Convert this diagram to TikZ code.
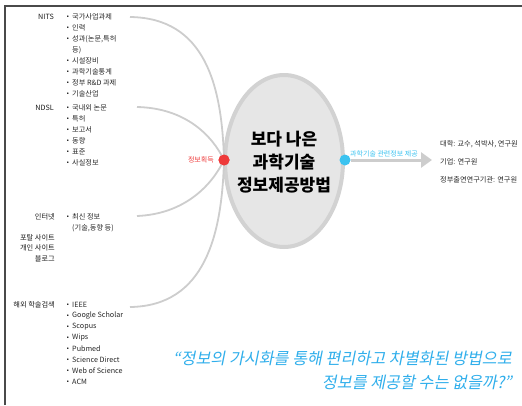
\documentclass[tikz,border=0pt]{standalone}
\usepackage{fontspec}
\setmainfont{Noto Sans CJK KR}
\newfontfamily\kr{Noto Sans CJK KR}
\newfontfamily\krq{Noto Sans CJK KR}[FakeSlant=0.2]
\usetikzlibrary{arrows.meta,shapes.geometric}
\definecolor{ringgray}{HTML}{D2D2D2}
\definecolor{fillgray}{HTML}{E6E6E6}
\definecolor{linegray}{HTML}{CDCDCD}
\definecolor{dotred}{HTML}{EE3A3A}
\definecolor{dotblue}{HTML}{3CC3F0}
\definecolor{quoteblue}{HTML}{2FAEEB}
\definecolor{framegray}{HTML}{4A4A4A}
\tikzset{
  item/.style={anchor=west,inner sep=0pt,font=\fontsize{7.2}{8}\kr,text=black!85},
  cat/.style={anchor=east,inner sep=0pt,font=\fontsize{7.2}{8}\kr,text=black!90},
  bul/.style={inner sep=0pt,font=\fontsize{6}{7}\kr},
  branch/.style={draw=linegray,line width=1.8pt},
  rtext/.style={anchor=west,inner sep=0pt,font=\fontsize{7.2}{8}\kr,text=black!85},
  quote/.style={anchor=east,inner sep=0pt,font=\fontsize{16.2}{18}\krq,text=quoteblue},
}
\begin{document}
\begin{tikzpicture}[x=1pt,y=-1pt]
\useasboundingbox (0,0) rectangle (522,405);
% frame
\draw[framegray,line width=1.6pt] (5,405) -- (5,6) -- (522,6);
% central ellipse
\node[draw=ringgray,fill=fillgray,line width=4pt,ellipse,inner sep=0pt,minimum width=118pt,minimum height=172pt] (ctr) at (284,161) {};
\node[inner sep=0pt,align=center,font=\fontsize{17}{23}\kr\bfseries] (title) at (284,162) {보다 나은\\과학기술\\정보제공방법};
% dots
\node[circle,fill=dotred,inner sep=0pt,minimum size=11pt] (red) at (224,160) {};
\node[circle,fill=dotblue,inner sep=0pt,minimum size=11pt] (blue) at (345,160) {};
\node[anchor=east,inner sep=0pt,font=\fontsize{7}{8}\kr,text=dotred] (get) at (214,160) {정보획득};
% branch end points
\coordinate (b1) at (130,17);
\coordinate (b2) at (137,107);
\coordinate (b3) at (137,216);
\coordinate (b4) at (130,307);
\draw[branch] (b1) .. controls (205,18) and (222,85) .. (red.center);
\draw[branch] (b2) .. controls (185,108) and (212,135) .. (red.center);
\draw[branch] (b3) .. controls (185,214) and (212,185) .. (red.center);
\draw[branch] (b4) .. controls (205,306) and (222,235) .. (red.center);
\node[circle,fill=dotred,inner sep=0pt,minimum size=11pt] at (red) {};
% arrow
\coordinate (tip) at (432,160);
\draw[linegray,line width=3pt,-{Triangle[length=11pt,width=15pt]}] (blue) -- (tip);
\node[anchor=south west,inner sep=0pt,font=\fontsize{7}{8}\kr,text=dotblue] (prov) at (350,157) {과학기술 관련정보 제공};
% right texts
\node[rtext] (r1) at (440,144) {대학: 교수, 석박사, 연구원};
\node[rtext] (r2) at (440,162) {기업: 연구원};
\node[rtext] (r3) at (440,180) {정부출연연구기관: 연구원};
% NITS
\node[cat] (nits) at (54,17) {NITS};
\foreach \t/\y in {국가사업과제/17,인력/28,성과(논문{,}특허/39,시설장비/61,과학기술통계/72,정부 R\&D 과제/83,기술산업/94}{
  \node[bul] at (68,\y) {•};
  \node[item] at (72,\y) {\t};
}
\node[item] (nits2) at (72,50) {등)};
% NDSL
\node[cat] (ndsl) at (54,108) {NDSL};
\foreach \t/\y in {국내외 논문/108,특허/119,보고서/130,동향/141,표준/152,사실정보/163}{
  \node[bul] at (68,\y) {•};
  \node[item] at (72,\y) {\t};
}
% Internet
\node[cat] (net) at (55,217) {인터넷};
\node[bul] at (68,217) {•};
\node[item] (net1) at (72,217) {최신 정보};
\node[item] (net2) at (72,228) {(기술,동향 등)};
\node[cat] (net3) at (55,238) {포탈 사이트};
\node[cat] (net4) at (55,248) {개인 사이트};
\node[cat] (net5) at (55,259) {블로그};
% overseas
\node[cat] (abroad) at (55,305) {해외 학술검색};
\foreach \t/\y in {IEEE/305,Google Scholar/316,Scopus/327,Wips/338,Pubmed/349,Science Direct/360,Web of Science/371,ACM/382}{
  \node[bul] at (68,\y) {•};
  \node[item] at (72,\y) {\t};
}
% quote
\node[quote] (q1) at (512,358) {“정보의 가시화를 통해 편리하고 차별화된 방법으로};
\node[quote] (q2) at (512,382) {정보를 제공할 수는 없을까?”};
\end{tikzpicture}
\end{document}
